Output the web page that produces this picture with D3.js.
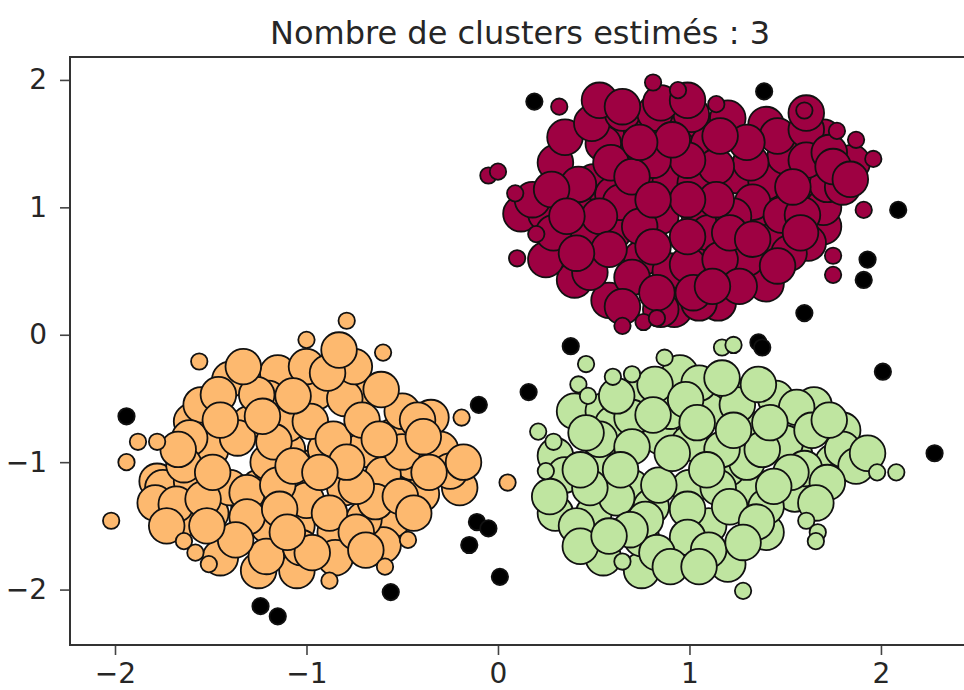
<!DOCTYPE html>
<html>
<head>
<meta charset="utf-8">
<script src="https://cdn.jsdelivr.net/npm/d3@7"></script>
<style>
  body { margin: 0; background: #fff; }
  text { font-family: "DejaVu Sans", sans-serif; fill: #262626; }
</style>
</head>
<body>
<svg></svg>
<script>
// Size of the SVG
var width = 964;
var height = 690;

var titleText = "Nombre de clusters estimés : 3";
var xTicks = [-2, -1, 0, 1, 2];
var yTicks = [-2, -1, 0, 1, 2];

// cluster 0 (top right) - core samples
var redCore = [
  [0.40,0.43],[0.25,0.59],[0.12,0.95],[0.58,0.27],[0.92,0.20],[1.15,0.25],[1.40,0.40],[1.70,0.85],
  [0.60,1.62],[0.88,1.62],[1.05,1.62],[1.40,1.65],[1.50,1.28],[1.25,1.25],[0.50,1.20],[0.30,1.35],
  [0.75,1.15],[1.05,0.95],[1.35,0.90],[0.45,0.65],[0.75,0.60],[1.05,0.70],[1.60,1.05],[1.85,1.35],
  [1.70,1.55],[0.35,1.55],[0.25,0.95],[1.45,0.75],[0.95,1.45],[0.70,1.40],
  [0.55,1.5],[0.6,1.1],[0.9,1.2],[1.1,1.5],[1.4,1.2],[1.3,0.6],[0.9,0.5],[0.6,0.8],[1.5,1.4],
  [1.7,1.0],[1.1,0.8],[0.4,1.0],[1.2,1.7],[0.75,1.6],[1.62,0.72],[0.85,0.2],[1.05,0.25],
  [0.49,1.66],[0.65,1.74],[0.82,1.74],[1.01,1.73],[0.53,1.84],[0.65,1.79],[0.59,1.35],[0.42,1.18],
  [0.18,1.06],[0.28,1.14],[0.64,1.04],[1.03,1.19],[0.85,0.93],[0.74,0.85],[0.44,0.82],[0.29,0.80],
  [0.48,0.49],[0.70,0.45],[0.99,0.55],[1.16,0.59],[1.26,0.38],[0.65,0.22],[0.83,0.33],[1.02,0.33],
  [1.12,0.38],[1.32,1.35],[1.46,1.56],[1.61,1.61],[1.33,1.04],[1.23,0.93],[1.48,0.94],[1.59,0.94],
  [1.52,0.64],[1.46,0.54],[1.72,1.18],[1.80,1.16],[1.61,1.37],[1.73,1.43],[1.14,1.32],[1.14,1.06],
  [0.99,1.37],[0.81,1.37],[0.70,1.24],[0.53,0.93],[0.36,0.93],[1.54,1.16],[1.21,0.80],[0.99,0.77],
  [0.81,0.69],[0.58,0.67],[0.41,0.64],[1.33,0.75],[1.58,0.80],[0.99,1.06],[0.81,1.06],[1.30,1.51],
  [1.16,1.56],[0.91,1.53],[0.74,1.51],[0.85,1.82],[0.99,1.84],[1.61,1.74],[1.75,1.32],[1.84,1.22]
];
// cluster 0 - border samples
var redEdge = [
  [0.32,1.79],[0.81,1.98],[0.94,1.92],[1.14,1.81],[1.60,1.76],[1.77,1.60],[1.87,1.53],[1.96,1.38],
  [1.91,0.98],[1.75,0.62],[1.75,0.47],[0.10,0.60],[0.20,0.79],[0.09,1.11],[-0.05,1.25],[0.00,1.28],
  [0.65,0.07],[0.76,0.10],[0.83,0.13]
];

// cluster 1 (bottom left) - core samples
var orangeCore = [
  [-1.78,-1.15],[-1.6,-0.68],[-1.55,-0.55],[-1.4,-0.35],[-1.15,-0.3],[-1.2,-0.5],[-0.95,-0.45],
  [-0.7,-0.45],[-0.55,-0.8],[-0.35,-0.65],[-0.2,-1.2],[-0.4,-1.25],[-0.55,-1.45],[-0.85,-1.55],
  [-1.05,-1.5],[-1.3,-1.35],[-1.5,-1.4],[-1.65,-1.45],[-1.45,-1.75],[-1.25,-1.85],[-1.05,-1.85],
  [-0.8,-1.2],[-1.0,-1.05],[-1.25,-1.2],[-1.55,-1.05],[-1.1,-0.9],[-0.7,-0.9],[-0.45,-1.0],
  [-0.6,-1.65],[-1.75,-1.2],
  [-1.2,-1.0],[-1.0,-1.3],[-0.8,-0.5],[-1.4,-1.2],[-0.6,-1.1],[-1.1,-0.7],[-0.9,-0.9],[-1.5,-0.9],
  [-0.7,-1.45],[-1.2,-1.5],[-0.5,-0.6],[-0.3,-0.9],[-1.6,-1.15],[-1.0,-0.25],[-0.75,-0.25],[-1.3,-0.7],
  [-0.85,-1.75],
  [-1.46,-0.47],[-1.26,-0.47],[-1.33,-0.25],[-1.61,-0.81],[-1.36,-0.81],[-1.17,-0.84],[-1.64,-1.02],
  [-1.79,-1.32],[-1.68,-1.33],[-1.54,-1.29],[-1.31,-1.24],[-1.15,-1.18],[-1.31,-1.43],[-1.14,-1.37],
  [-1.21,-1.74],[-1.37,-1.61],[-1.03,-1.67],[-0.88,-1.40],[-0.89,-0.30],[-0.98,-0.68],[-0.86,-0.82],
  [-0.71,-0.67],[-0.61,-0.43],[-0.83,-0.12],[-0.50,-0.92],[-0.42,-0.67],[-0.25,-1.07],[-0.18,-1.00],
  [-0.64,-1.31],[-0.74,-1.19],[-0.74,-1.55],[-0.69,-1.69],[-0.51,-1.27],[-0.44,-1.40],[-1.07,-0.48],
  [-0.79,-1.00],[-1.07,-1.03],[-1.49,-1.08],[-1.67,-0.90],[-1.73,-1.50],[-1.52,-1.50],[-0.93,-1.08],
  [-0.97,-1.71],[-1.45,-0.67],[-1.23,-0.64],[-0.62,-0.82],[-0.36,-1.08],[-0.39,-0.80],[-1.10,-1.55]
];
// cluster 1 - border samples
var orangeEdge = [
  [-1.56,-0.21],[-0.79,0.11],[-1.00,-0.04],[-0.60,-0.14],[-0.19,-0.65],[-1.88,-0.84],[-1.78,-0.84],
  [-1.94,-1.00],[-2.02,-1.46],[-1.64,-1.62],[-1.58,-1.71],[-1.51,-1.80],[-0.47,-1.61],[-0.59,-1.82],
  [-0.88,-1.93],[0.05,-1.16]
];

// cluster 2 (bottom right) - core samples
var greenCore = [
  [0.3,-0.95],[0.4,-0.6],[0.55,-0.6],[0.75,-0.45],[0.95,-0.3],[1.2,-0.45],[1.45,-0.5],[1.65,-0.55],
  [1.8,-0.75],[1.75,-1.0],[1.55,-1.25],[1.3,-1.2],[1.0,-1.2],[0.7,-1.2],[0.5,-1.05],[0.3,-1.4],
  [0.55,-1.75],[0.75,-1.85],[1.0,-1.7],[1.2,-1.8],[1.4,-1.55],[1.2,-1.05],[0.85,-0.8],[1.35,-0.75],
  [1.55,-0.95],[0.6,-0.7],[1.1,-0.6],
  [0.7,-0.65],[1.0,-0.85],[1.3,-1.0],[0.55,-1.0],[0.8,-1.35],[1.15,-1.2],[1.5,-0.85],[0.9,-0.6],
  [1.25,-0.55],[0.5,-1.4],[1.6,-1.05],[1.1,-1.5],[0.75,-1.6],[1.4,-1.35],[0.35,-1.1],[1.8,-0.9],
  [0.82,-0.39],[1.05,-0.38],[1.17,-0.34],[1.36,-0.39],[0.98,-0.51],[0.81,-0.63],[1.04,-0.69],
  [0.53,-0.82],[0.46,-0.77],[0.70,-0.88],[1.17,-0.90],[1.38,-0.90],[1.56,-0.57],[1.64,-0.75],
  [1.73,-0.67],[1.42,-0.69],[1.87,-1.03],[1.93,-0.93],[1.53,-1.08],[1.72,-1.16],[1.66,-1.32],
  [1.09,-1.06],[0.84,-1.18],[0.62,-1.28],[0.48,-1.20],[0.27,-1.27],[0.41,-1.50],[0.43,-1.66],
  [0.77,-1.45],[0.99,-1.37],[1.21,-1.35],[1.35,-1.47],[0.99,-1.59],[1.10,-1.69],[0.83,-1.71],
  [0.90,-1.82],[1.05,-1.82],[1.28,-1.63],[1.44,-1.19],[0.64,-1.06],[0.91,-0.93],[0.43,-1.06],
  [0.69,-1.53],[0.58,-1.58],[1.23,-0.75],[0.62,-0.48]
];
// cluster 2 - border samples
var greenEdge = [
  [0.46,-0.23],[0.42,-0.39],[0.47,-0.48],[0.60,-0.33],[0.70,-0.31],[0.87,-0.18],[1.17,-0.10],
  [1.23,-0.08],[0.21,-0.76],[0.29,-0.84],[0.25,-1.07],[1.61,-1.46],[1.67,-1.55],[1.66,-1.62],
  [1.98,-1.08],[2.08,-1.08],[0.65,-1.78],[1.28,-2.01]
];

// noise
var noise = [
  [0.19,1.83],[1.39,1.91],[2.09,0.98],[1.93,0.59],[1.91,0.43],[1.60,0.17],[0.38,-0.09],[0.16,-0.45],
  [1.36,-0.06],[1.38,-0.10],[2.01,-0.29],[2.28,-0.93],[0.01,-1.90],[-0.10,-0.55],[-0.11,-1.47],
  [-0.05,-1.52],[-0.15,-1.65],[-0.56,-2.02],[-1.24,-2.13],[-1.15,-2.21],[-1.94,-0.64]
];

var svg = d3.select("svg").attr("width", width).attr("height", height);

// plot box (pixels)
var boxLeft = 70, boxRight = 970, boxTop = 57, boxBottom = 645;

var xScale = d3.scaleLinear().domain([-2.235, 2.465]).range([boxLeft, boxRight]);
var yScale = d3.scaleLinear().domain([-2.435, 2.18]).range([boxBottom, boxTop]);

// groups drawn in the same order as the original plot
var groups = [
  { pts: redCore, color: "#9e0142", r: 17.8 },
  { pts: redEdge, color: "#9e0142", r: 8.2 },
  { pts: orangeCore, color: "#fdb96f", r: 17.8 },
  { pts: orangeEdge, color: "#fdb96f", r: 8.2 },
  { pts: greenCore, color: "#bfe5a0", r: 17.8 },
  { pts: greenEdge, color: "#bfe5a0", r: 8.2 },
  { pts: noise, color: "#000000", r: 8.2 }
];

groups.forEach(function (g) {
  svg.append("g").selectAll("circle").data(g.pts).enter().append("circle")
    .attr("cx", function (d) { return xScale(d[0]); })
    .attr("cy", function (d) { return yScale(d[1]); })
    .attr("r", g.r)
    .attr("fill", g.color)
    .attr("stroke", "#111")
    .attr("stroke-width", 1.8);
});

// axes
var fmt = d3.format("d");
var x_Axis = d3.axisBottom(xScale).tickValues(xTicks).tickFormat(fmt).tickSize(10).tickPadding(8);
var y_Axis = d3.axisLeft(yScale).tickValues(yTicks).tickFormat(fmt).tickSize(10).tickPadding(13);

var gx = svg.append("g").attr("transform", "translate(0," + boxBottom + ")").call(x_Axis);
var gy = svg.append("g").attr("transform", "translate(" + boxLeft + ",0)").call(y_Axis);
[gx, gy].forEach(function (g) {
  g.select(".domain").remove();
  g.selectAll(".tick line").attr("stroke", "#444").attr("stroke-width", 1.6);
  g.selectAll(".tick text").attr("font-size", 28).attr("fill", "#262626")
    .style("font-family", "'DejaVu Sans', sans-serif");
});

// spines
svg.append("rect")
  .attr("x", boxLeft).attr("y", boxTop)
  .attr("width", boxRight - boxLeft).attr("height", boxBottom - boxTop)
  .attr("fill", "none").attr("stroke", "#333").attr("stroke-width", 2);

svg.append("text")
  .attr("x", (boxLeft + boxRight) / 2)
  .attr("y", 44)
  .attr("text-anchor", "middle")
  .attr("font-size", 32)
  .text(titleText);
</script>
</body>
</html>
